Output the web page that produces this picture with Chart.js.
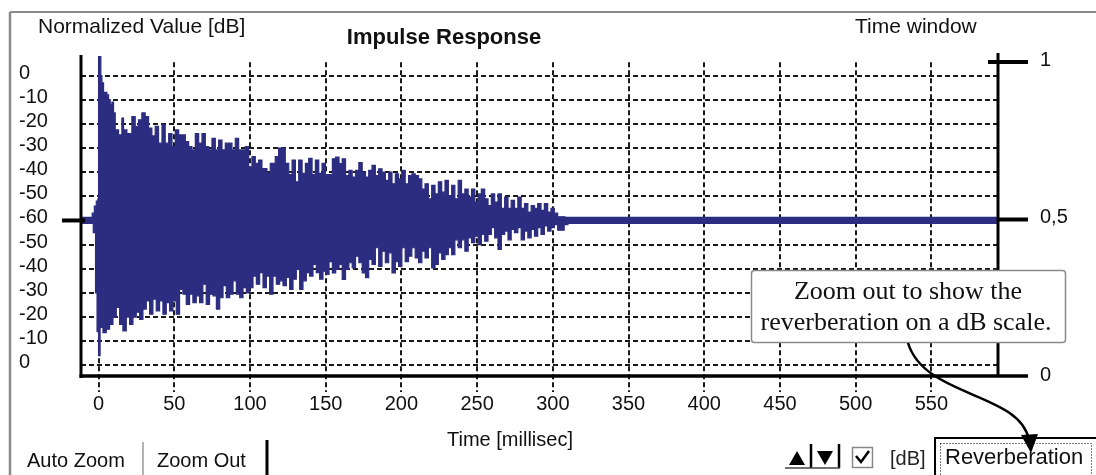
<!DOCTYPE html>
<html><head><meta charset="utf-8">
<script src="https://cdn.jsdelivr.net/npm/chart.js@4.4.1/dist/chart.umd.min.js"></script>
<style>html,body{margin:0;padding:0;background:#fff}#wrap{width:1096px;height:475px;position:relative}</style>
</head><body><div id="wrap"><canvas id="c"></canvas></div>
<script>
// ---- data ----
const upperTimeMs = [
-11.6,-4.2,-2.8,-1.5,-0.5, 0,1.5,2.2,3.3,5.5, 6.6,7.7,8.8,9.9,11, 13.2,15.4,16.5,18.7,22,
24.2,26.4,28.6,30.8,33, 35.2,37.4,39.6,41.9,44, 46.3,48.5,50.7,52.9,57.3, 59.5,61.7,63.9,66.1,68.3,
70.5,72.7,74.9,77.1,79.3, 81.5,83.7,88.1,90.3,92.5, 96.9,99.1,101.3,103.5,105.7, 107.9,111.2,113.4,116.7,118.9,
123.3,125.6,127.8,130,132.2, 134.4,136.6,138.8,141,143.2, 145.4,147.6,149.8,
154.4,156.6,158.8,160.9,163.1, 165.3,167.5,169.7,171.9,174.1, 176.3,178.4,180.6,182.8,185, 187.2,189.4,191.6,193.8,196,
198.1,200.3,202.5,204.7,206.9, 209.1,211.3,213.5,215.6,217.8, 220,222.2,224.4,226.6,228.8, 231,233.2,235.3,237.5,239.7,
241.9,244.1,246.3,248.5,250.7, 252.8,255,257.2,259.4,261.6, 263.8,266,268.2,270.4,272.5, 274.7,276.9,279.1,281.3,283.5,
285.7,287.9,290,292.2,294.4, 296.6,298.8,301,303.2,308, 594];
const upperDb = [
-59,-57,-54,-52,-51, 7.8,0,-3,-7,-8, -10,-12,-11,-15.5,-22.5, -24.6,-17.6,-22.5,-24,-17,
-21,-18.3,-15.5,-17,-21.8, -25,-21,-28,-20.4,-28, -24,-29.4,-22.5,-24.6,-27.4, -29.4,-30.8,-24,-28,-24,
-29.4,-30.8,-26,-30.8,-26.7, -30.8,-28,-30.8,-26,-30.8, -29.4,-37.8,-33.6,-36.4,-35, -38.5,-40.5,-36.4,-33.6,-30,
-36.4,-41,-35,-44,-35, -40.5,-36.4,-34.3,-41,-35, -40.5,-36.4,-41,
-34.5,-33.8,-36.5,-34.5,-41.4, -39.3,-42,-39.3,-36,-40, -42,-39.3,-37.2,-41.4,-38.6, -40,-43.4,-40,-44.8,-40.7,
-42.8,-39.3,-44.8,-41.4,-40.7, -41.4,-42.8,-47,-44.8,-51, -45.5,-49,-44,-48.3,-43.4, -49.7,-45.5,-51,-43.4,-49,
-47,-50.3,-47,-52.4,-49, -47,-51,-53.8,-49,-52.4, -49,-55,-50.3,-55,-51.7, -55,-50.3,-55,-53,-56.5,
-53.8,-55,-53,-55.8,-53, -56.5,-55,-57,-58.5,-59, -59];
const lowerTimeMs = [
-11.6,-3.5,-2,-1,0, 1,2.9,5.1,7.3,9.5, 11.7,13.9,16.1,18.3,20.5, 22.7,24.9,27.1,29.3,31.5,
33.7,35.9,38.1,40.3,42.5, 44.7,46.9,49.1,51.3,53.5, 55.7,57.9,60.1,62.3,64.5, 66.7,68.9,71.1,73.3,75.6,
77.8,80,82.2,84.4,86.6, 88.8,91,93.2,95.4,97.6, 99.8,102,104.2,106.4,108.6, 110.8,113,115.2,117.4,119.6,
121.8,124,126.2,128.4,130.6, 132.8,135,137.2,139.4,141.6, 143.8,146,148.2,
150,152.2,154.4,156.6,158.8, 160.9,163.1,165.3,167.5,169.7, 171.9,174.1,176.3,178.4,180.6, 182.8,185,187.2,189.4,191.6,
193.8,196,198.1,200.3,202.5, 204.7,206.9,209.1,211.3,213.5, 215.6,217.8,220,222.2,224.4, 226.6,228.8,231,233.2,235.3,
237.5,239.7,241.9,244.1,246.3, 248.5,250.7,252.8,255,257.2, 259.4,261.6,263.8,266,268.2, 270.4,272.5,274.7,276.9,279.1,
281.3,283.5,285.7,287.9,290, 292.2,294.4,296.6,298.8,301, 303.2,307.5,310,594];
const lowerDb = [
-59,-55,-30,-14,-4, -15.7,-13.6,-15,-17,-20, -24,-17,-14.3,-20,-17, -20,-22,-19,-23.3,-26.7,
-21.2,-27.4,-22.6,-26.7,-21.2, -26,-22.6,-26.7,-21.2,-31.5, -29.5,-25.3,-29.5,-26,-28.8, -26,-33.6,-25.3,-29.5,-28.8,
-23.3,-28,-33,-28,-29.5, -35,-29.5,-28,-32.2,-30, -32.2,-37,-33.6,-38.4,-32.2, -37,-29.5,-37,-33.6,-35,
-33,-36.4,-31.5,-35.7,-39.8, -31.5,-35,-38.4,-37,-41.8, -38.4,-35.7,-39,
-37.7,-43,-38.3,-39.7,-41.8, -35.6,-39.7,-42.5,-40.4,-45.2, -42.5,-38.3,-36.3,-43.9,-41.8, -48.7,-41,-47.3,-42.5,-46.6,
-38.3,-43,-41,-48.7,-43, -45.2,-48.7,-44.5,-42.5,-47.3, -44.5,-48.7,-40.4,-41.8,-46.6, -43.9,-45.9,-48.7,-45.9,-52,
-48.7,-52,-47.3,-52.8,-50.8, -53.5,-50,-54.2,-51.4,-54.2, -57,-52.8,-48,-54.2,-55.6, -52,-56.3,-55,-57,-52,
-55.6,-52.8,-56.3,-53.5,-57, -54.2,-57.7,-55.6,-57,-58.3, -56,-58.3,-59,-59];
const xTickValues = [0,50,100,150,200,250,300,350,400,450,500,550];
const dbTickValues = [0,-10,-20,-30,-40,-50,-60];
const rightTickValues = [1,0.5,0];
const rightTickLabels = ['1','0,5','0'];

// ---- helpers ----
const NAVY = '#2c2d80';
const SANS = '"Liberation Sans", Arial, sans-serif';
const SERIF = '"Liberation Serif", "Times New Roman", serif';
// dB magnitude mirrored around the -60 dB centre line
const toUpper = d => 60 + d;
const toLower = d => -(60 + d);
const upperPts = upperTimeMs.map((t,i)=>({x:t, y:toUpper(upperDb[i])}));
const lowerPts = lowerTimeMs.map((t,i)=>({x:t, y:toLower(lowerDb[i])}));

function txt(ctx, s, x, y, font, align, color){
  ctx.font = font; ctx.fillStyle = color || '#111'; ctx.textAlign = align || 'left';
  ctx.textBaseline = 'middle'; ctx.fillText(s, x, y);
}
function line(ctx, x1, y1, x2, y2, w, c, dash){
  ctx.save(); ctx.strokeStyle = c || '#000'; ctx.lineWidth = w; ctx.setLineDash(dash || []);
  ctx.beginPath(); ctx.moveTo(x1,y1); ctx.lineTo(x2,y2); ctx.stroke(); ctx.restore();
}

const decor = {
  id: 'decor',
  beforeDatasetsDraw(chart){
    const {ctx, chartArea:a, scales:{x,y}} = chart;
    dbTickValues.forEach(d=>{
      if (d === -60) return;
      [toUpper(d), toLower(d)].forEach(s=>{
        const py = Math.round(y.getPixelForValue(s));
        line(ctx, a.left, py, a.right, py, 2, '#1a1a1a', [5,3]);
      });
    });
    const top = y.getPixelForValue(65.5);
    xTickValues.forEach(t=>{
      const px = Math.round(x.getPixelForValue(t));
      line(ctx, px, top, px, a.bottom + 15, 2, '#1a1a1a', [5,3]);
    });
  },
  afterDatasetsDraw(chart){
    const {ctx, chartArea:a, scales:{x,y,y2}} = chart;
    const yc = y.getPixelForValue(0);
    line(ctx, 62, yc, a.left + 4, yc, 4, '#000');
    line(ctx, a.left, 55, a.left, a.bottom + 1, 3, '#000');
    line(ctx, a.left - 1.5, a.bottom - 1, 1028, a.bottom - 1, 3.5, '#000');
    line(ctx, a.right, 53, a.right, a.bottom, 3, '#000');
    rightTickValues.forEach((v,i)=>{
      const py = y2.getPixelForValue(v);
      if (v === 1) line(ctx, a.right - 10, py, 1028, py, 4, '#000');
      else if (v > 0) line(ctx, a.right, py, 1028, py, 4, '#000');
      txt(ctx, rightTickLabels[i], 1040, py - 2, '20px ' + SANS, 'left');
    });
    dbTickValues.forEach(d=>{
      const arr = d === -60 ? [0] : [toUpper(d), toLower(d)];
      arr.forEach(s=>{
        txt(ctx, String(d), 19, y.getPixelForValue(s) - 2.5, '20px ' + SANS, 'left');
      });
    });
    xTickValues.forEach(t=>{
      txt(ctx, String(t), x.getPixelForValue(t), 404, '20px ' + SANS, 'center');
    });
  },
  afterDraw(chart){
    const {ctx} = chart;
    line(ctx, 10, 12, 1096, 12, 2, '#8a8a8a');
    line(ctx, 10, 12, 10, 475, 2.5, '#8a8a8a');
    txt(ctx, 'Normalized Value [dB]', 38, 27, '21px ' + SANS, 'left');
    txt(ctx, 'Time window', 855, 27, '21px ' + SANS, 'left');
    txt(ctx, 'Impulse Response', 444, 38, 'bold 22px ' + SANS, 'center');
    txt(ctx, 'Time [millisec]', 510, 440, '20px ' + SANS, 'center');
    txt(ctx, 'Auto Zoom', 27, 461, '20px ' + SANS, 'left');
    line(ctx, 143, 442, 143, 475, 1.5, '#999');
    txt(ctx, 'Zoom Out', 157, 461, '20px ' + SANS, 'left');
    line(ctx, 267, 440, 267, 475, 3, '#000');
    ctx.fillStyle = '#000';
    ctx.beginPath(); ctx.moveTo(789,465); ctx.lineTo(805,465); ctx.lineTo(797,451); ctx.closePath(); ctx.fill();
    ctx.beginPath(); ctx.moveTo(817,451); ctx.lineTo(833,451); ctx.lineTo(825,465); ctx.closePath(); ctx.fill();
    line(ctx, 811, 444, 811, 468, 2.5, '#000');
    line(ctx, 839, 444, 839, 468, 2.5, '#000');
    line(ctx, 785, 468, 840, 468, 1.5, '#444');
    ctx.save(); ctx.strokeStyle = '#888'; ctx.lineWidth = 1.5; ctx.strokeRect(852.5, 447.5, 20, 20); ctx.restore();
    ctx.save(); ctx.strokeStyle = '#000'; ctx.lineWidth = 2.5; ctx.beginPath();
    ctx.moveTo(856, 456); ctx.lineTo(861, 462); ctx.lineTo(869, 451); ctx.stroke(); ctx.restore();
    txt(ctx, '[dB]', 890, 459, '20px ' + SANS, 'left', '#222');
    ctx.save(); ctx.strokeStyle = '#000'; ctx.lineWidth = 2; ctx.strokeRect(935, 438, 170, 45);
    ctx.setLineDash([1,2]); ctx.lineWidth = 1; ctx.strokeRect(940.5, 443.5, 151, 40); ctx.restore();
    txt(ctx, 'Reverberation', 945, 458, '22px ' + SANS, 'left');
    ctx.save(); ctx.fillStyle = '#fff'; ctx.strokeStyle = '#8a8a8a'; ctx.lineWidth = 1.5;
    ctx.beginPath(); ctx.roundRect(751.5, 270.5, 314, 72, 3); ctx.fill(); ctx.stroke(); ctx.restore();
    txt(ctx, 'Zoom out to show the', 908, 292, '26px ' + SERIF, 'center');
    txt(ctx, 'reverberation on a dB scale.', 906, 323, '26px ' + SERIF, 'center');
    ctx.save(); ctx.strokeStyle = '#000'; ctx.lineWidth = 2.5; ctx.beginPath();
    ctx.moveTo(908, 343); ctx.bezierCurveTo(925, 398, 1020, 392, 1029, 440); ctx.stroke();
    ctx.fillStyle = '#000'; ctx.beginPath(); ctx.moveTo(1031, 453); ctx.lineTo(1021, 435); ctx.lineTo(1038, 434); ctx.closePath(); ctx.fill();
    ctx.restore();
  }
};

new Chart(document.getElementById('c'), {
  type: 'line',
  data: { datasets: [
    { data: upperPts, stepped: 'before', fill: {value: -1.5}, borderColor: NAVY, backgroundColor: NAVY, borderWidth: 1.2, pointRadius: 0 },
    { data: lowerPts, stepped: 'before', fill: {value: 1.5}, borderColor: NAVY, backgroundColor: NAVY, borderWidth: 1.2, pointRadius: 0 }
  ]},
  options: {
    animation: false, responsive: true, maintainAspectRatio: false,
    layout: { padding: { left: 81, right: 98, top: 55, bottom: 98 } },
    plugins: { legend: { display: false }, tooltip: { enabled: false } },
    scales: {
      x: { type: 'linear', min: -11.6, max: 594, display: false },
      y: { type: 'linear', min: -64.8, max: 68.5, display: false },
      y2: { type: 'linear', position: 'right', min: 0, max: 1.0222, display: false }
    }
  },
  plugins: [decor]
});
</script></body></html>
